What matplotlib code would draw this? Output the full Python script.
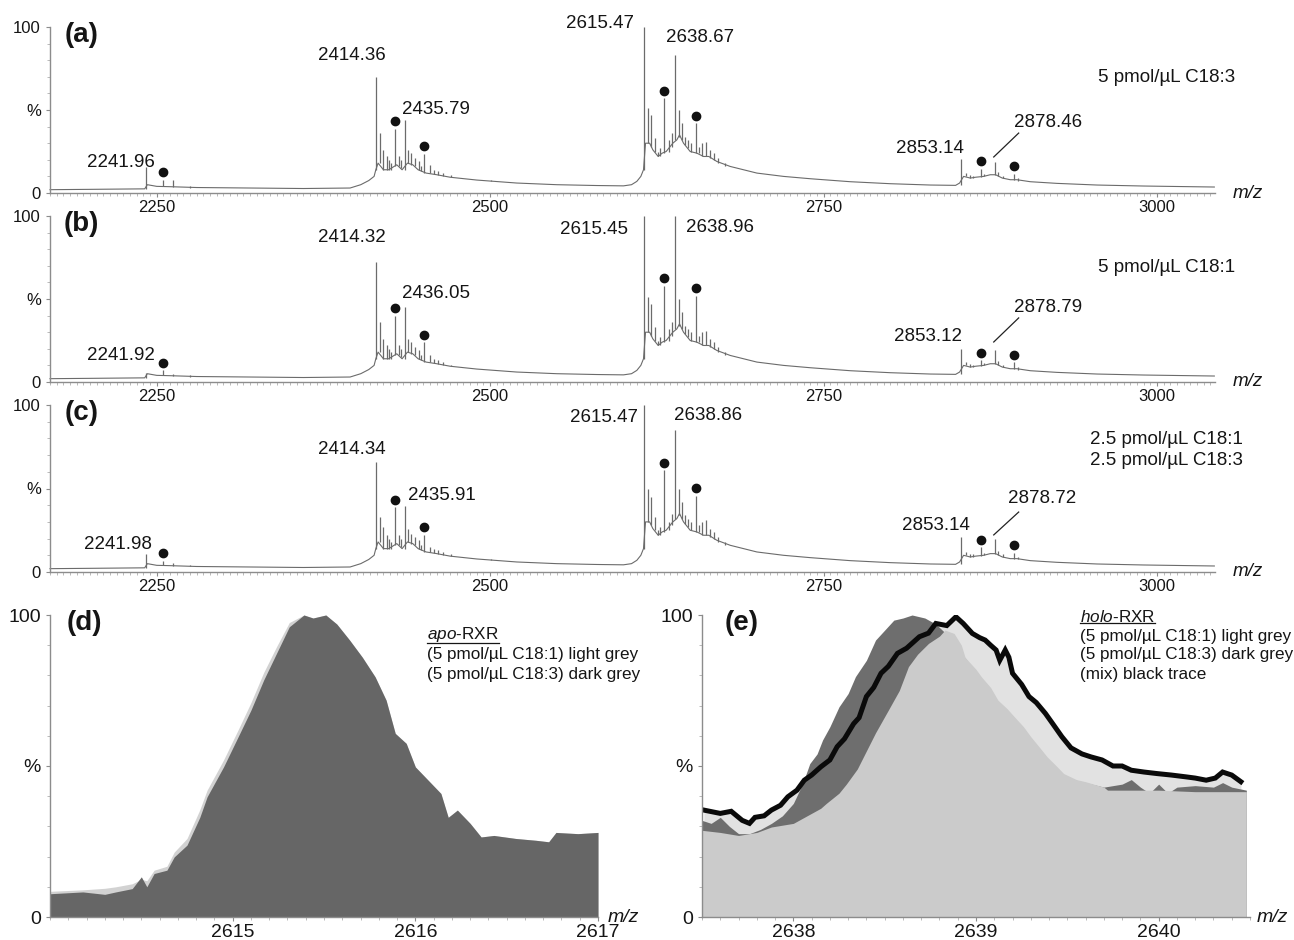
import numpy as np
import matplotlib
matplotlib.use("Agg")
import matplotlib.pyplot as plt
from matplotlib.ticker import FixedLocator, MultipleLocator
from matplotlib.lines import Line2D

plt.rcParams['font.family'] = ['Liberation Sans', 'DejaVu Sans']
plt.rcParams['mathtext.fontset'] = 'custom'
plt.rcParams['mathtext.rm'] = 'Liberation Sans'
plt.rcParams['mathtext.it'] = 'Liberation Sans:italic'

# ---------------- data: panels (a)-(c) ----------------
env_mz = [2170, 2200, 2241, 2243, 2250, 2260, 2280, 2320, 2360, 2395, 2403, 2409, 2413,
          2414.3, 2416, 2418, 2420, 2424, 2430, 2434, 2438, 2442, 2446, 2452, 2460, 2470,
          2490, 2520, 2550, 2580, 2600, 2606, 2610, 2613, 2615, 2616.5, 2619.6, 2622, 2626,
          2629, 2632, 2637, 2640, 2642, 2645, 2650, 2655, 2660, 2664, 2670, 2680, 2690, 2700,
          2720, 2740, 2770, 2800, 2830, 2849, 2852, 2855, 2860, 2864, 2870, 2875, 2879, 2884,
          2890, 2895, 2905, 2925, 2955, 2990, 3043]
env_int = [2.0, 2.2, 2.5, 5.0, 4.0, 3.8, 3.3, 3.0, 2.7, 3.0, 5.0, 7.5, 10.0,
           14, 18, 16, 14, 14, 17, 14, 18, 17, 14, 12, 11, 9.5,
           7.8, 6.0, 5.0, 4.5, 4.3, 5.0, 7.0, 10, 14, 30, 30, 26, 22,
           24, 25, 30, 32, 35, 30, 25, 24, 22, 22, 19, 16, 14, 12,
           10, 8.6, 6.8, 5.6, 4.8, 4.6, 6, 10, 9, 9.5, 10, 11, 11, 9,
           8, 8, 6.8, 5.8, 4.8, 4.2, 3.6]

peak_mz = [2241.96, 2255.0, 2262.5, 2275.0, 2414.36, 2417.2, 2419.8, 2422.5, 2428.5, 2435.8,
           2438.5, 2441.0, 2450.5, 2455.0, 2471.0, 2501.0, 2615.47, 2618.5, 2620.8, 2625.5,
           2630.5, 2634.0, 2636.5, 2638.7, 2641.5, 2643.5, 2646.0, 2654.0, 2656.5, 2659.0,
           2662.0, 2676.0, 2853.14, 2856.5, 2859.5, 2867.8, 2878.5, 2881.0, 2892.5,
           2424.5, 2426.0, 2431.5, 2433.0, 2444.0, 2446.5, 2448.0, 2458.0, 2461.0, 2464.5,
           2623.5, 2627.5, 2648.5, 2650.5, 2665.0, 2668.0, 2671.0, 2862.0, 2870.5, 2884.5,
           2896.0]
peak_base = [2.5, 4.0, 3.8, 3.3, 14, 18, 14, 14, 16, 14,
             18, 17, 12, 12, 9.5, 7.0, 14, 30, 28, 22,
             24, 25, 28, 32, 34, 32, 29, 24, 24, 22,
             22, 16, 4.6, 10, 9, 9.5, 11, 10, 8,
             14, 14, 16, 15, 16, 14, 13, 11.5, 11, 10,
             25, 22, 27, 25, 21, 20, 18, 9, 10, 9,
             7.5]
peak_dotted = [0, 1, 0, 0, 0, 0, 0, 0, 1, 0,
               0, 0, 1, 0, 0, 0, 0, 0, 0, 0,
               1, 0, 0, 0, 0, 0, 0, 1, 0, 0,
               0, 0, 0, 0, 0, 1, 0, 0, 1,
               0, 0, 0, 0, 0, 0, 0, 0, 0, 0,
               0, 0, 0, 0, 0, 0, 0, 0, 0, 0,
               0]
height_a = [15.7, 8.0, 7.6, 4.5, 70, 36, 26, 22, 38.8, 44,
            26, 24, 23.7, 16.7, 10.6, 7.6, 100, 51, 47, 25,
            57, 32, 36, 83, 50, 42, 34, 42, 28, 30,
            31, 18, 20.7, 12, 11, 14.7, 18.7, 12.6, 11.6,
            20, 18, 22, 20, 21, 19, 16, 14, 13, 12,
            33, 27, 32, 30, 26, 24, 21, 10.5, 11.5, 10.5,
            9]
height_b = [5.5, 7.0, 5.0, 4.0, 72, 36, 26, 22, 40, 45,
            26, 24, 24, 16, 10.5, 7.5, 100, 51, 47, 25,
            58, 32, 36, 100, 50, 42, 34, 52, 28, 30,
            31, 18, 20, 12, 11, 13, 19, 12.6, 12,
            20, 18, 22, 20, 21, 19, 16, 14, 13, 12,
            33, 27, 32, 30, 26, 24, 21, 10.5, 11.5, 10.5,
            9]
height_c = [10.6, 6.6, 5.5, 4.0, 66, 33, 27, 22, 38.8, 39.8,
            26, 23, 22.3, 15, 10.5, 7.5, 100, 50, 45, 25,
            61, 30, 35, 85, 50, 42, 34, 45.8, 28, 30,
            31, 18, 20.7, 12, 11, 14.7, 19.7, 12.6, 11.6,
            20, 18, 22, 20, 21, 19, 16, 14, 13, 12,
            33, 27, 32, 30, 26, 24, 21, 10.5, 11.5, 10.5,
            9]

labels_a = ["2241.96", "2414.36", "2435.79", "2615.47", "2638.67", "2853.14", "2878.46"]
labels_b = ["2241.92", "2414.32", "2436.05", "2615.45", "2638.96", "2853.12", "2878.79"]
labels_c = ["2241.98", "2414.34", "2435.91", "2615.47", "2638.86", "2853.14", "2878.72"]
notes_a = ["5 pmol/\u00b5L C18:3"]
notes_b = ["5 pmol/\u00b5L C18:1"]
notes_c = ["2.5 pmol/\u00b5L C18:1", "2.5 pmol/\u00b5L C18:3"]
ticks_top = [2250, 2500, 2750, 3000]

# ---------------- data: panel (d) ----------------
d_mz = [2614.0, 2614.18, 2614.3, 2614.36, 2614.45, 2614.5, 2614.53, 2614.57, 2614.64, 2614.68,
        2614.75, 2614.82, 2614.86, 2614.95, 2615.03, 2615.1, 2615.17, 2615.24, 2615.31, 2615.39,
        2615.44, 2615.51, 2615.57, 2615.64, 2615.71, 2615.78, 2615.84, 2615.89, 2615.95, 2616.0,
        2616.07, 2616.14, 2616.18, 2616.23, 2616.3, 2616.36, 2616.43, 2616.55, 2616.66, 2616.73,
        2616.77, 2616.89, 2617.0]
d_c183 = [7.7, 8.3, 7.5, 8.3, 9.4, 13.3, 10.0, 14.4, 15.5, 19.9,
          23.8, 33, 39.8, 49.7, 59.7, 68.5, 78.5, 87.3, 96.1, 100,
          99, 100, 97, 91.7, 86, 79.5, 71.8, 60.8, 57.5, 49.7,
          45.3, 40.9, 33, 35.4, 31, 26.5, 27, 26, 25.4, 24.9,
          28, 27.6, 28]
d_c181 = [8.5, 9.0, 9.5, 10.0, 11.0, 12.5, 12.0, 15.5, 16.8, 21.5,
          26, 35.5, 42, 52, 62, 71, 81, 89.5, 97.5, 100,
          99, 100, 97, 91.7, 86, 79.5, 71.8, 60.8, 57.5, 49.7,
          45.3, 40.9, 33, 35.4, 31, 26.5, 27, 26, 25.4, 24.9,
          28, 27.6, 28]
ticks_d = [2615, 2616, 2617]

# ---------------- data: panel (e) ----------------
e_mix_mz = [2637.51, 2637.6, 2637.66, 2637.72, 2637.76, 2637.79, 2637.84, 2637.88, 2637.93, 2637.97,
            2638.02, 2638.06, 2638.1, 2638.15, 2638.2, 2638.24, 2638.28, 2638.33, 2638.36, 2638.4,
            2638.44, 2638.48, 2638.52, 2638.57, 2638.62, 2638.69, 2638.74, 2638.78, 2638.84, 2638.89,
            2638.93, 2638.98, 2639.02, 2639.05, 2639.08, 2639.11, 2639.13, 2639.16, 2639.18, 2639.2,
            2639.25, 2639.29, 2639.33, 2639.38, 2639.42, 2639.47, 2639.52, 2639.58, 2639.63, 2639.69,
            2639.75, 2639.8, 2639.85, 2639.92, 2639.99, 2640.07, 2640.15, 2640.2, 2640.26, 2640.31,
            2640.35, 2640.4, 2640.45]
e_mix = [35.4, 34.3, 35, 32, 31, 33, 33.5, 35.4, 37, 39.8,
         42, 45.3, 47, 49.7, 52, 56.4, 59, 64, 66, 73,
         76, 80.7, 83, 87.3, 89, 92.8, 94, 97.2, 96.5, 99.4,
         97.2, 93.9, 92.5, 91.7, 90, 88.4, 85, 88.4, 86, 80.7,
         77, 73, 71, 67.4, 64, 59.7, 56, 54, 53, 52,
         50, 50, 48.6, 48, 47.5, 47, 46.4, 46, 45.3, 46,
         48, 47, 44.8]
e_c183_mz = [2637.5, 2637.55, 2637.6, 2637.65, 2637.7, 2637.76, 2637.82, 2637.88, 2637.94, 2638.0,
             2638.05, 2638.09, 2638.13, 2638.16, 2638.2, 2638.25, 2638.3, 2638.34, 2638.4, 2638.45,
             2638.5, 2638.55, 2638.6, 2638.65, 2638.72, 2638.78, 2638.85, 2638.95, 2639.05, 2639.15,
             2639.3, 2639.5, 2639.7, 2639.8, 2639.85, 2639.9, 2639.95, 2640.0, 2640.05, 2640.1,
             2640.2, 2640.3, 2640.35, 2640.4, 2640.48]
e_c183 = [32, 31, 33, 30, 27.6, 27.6, 29, 31, 33.5, 37.6,
          44, 50.8, 54, 58.6, 63, 69.6, 74, 79.6, 85, 91.7,
          95, 98.3, 99, 100, 99, 97, 93, 85, 75, 65,
          55, 46, 43, 44, 45.5, 43, 41, 44, 41, 43,
          43.5, 43, 44.5, 43, 42]
e_c181_mz = [2637.5, 2637.6, 2637.7, 2637.8, 2637.88, 2638.0, 2638.06, 2638.15, 2638.18, 2638.25,
             2638.29, 2638.35, 2638.4, 2638.45, 2638.52, 2638.58, 2638.63, 2638.68, 2638.74, 2638.8,
             2638.83, 2638.88, 2638.92, 2638.94, 2639.0, 2639.03, 2639.08, 2639.12, 2639.17, 2639.21,
             2639.26, 2639.3, 2639.35, 2639.39, 2639.44, 2639.48, 2639.55, 2639.6, 2639.7, 2639.72,
             2639.87, 2640.0, 2640.2, 2640.48]
e_c181 = [28.7, 28, 27, 28, 29.8, 31, 33, 36, 37.6, 41,
          44, 49, 55, 61, 68.5, 75, 82.9, 87, 90.6, 93,
          95, 93.9, 90, 86, 82, 79.5, 76, 71.8, 69, 66.3,
          63, 59.7, 56, 53, 50, 47.5, 45.5, 44.8, 43, 42,
          42, 42, 41.5, 41.5]
ticks_e = [2638, 2639, 2640]

# ---------------- styling / layout ----------------
W, H = 1294, 940
TRACE = '#6b6b6b'
SPINE = '#8c8c8c'
TXT = '#151515'


def px_axes(x0, x1, ytop, ybot):
    return [x0 / W, 1 - ybot / H, (x1 - x0) / W, (ybot - ytop) / H]


fig = plt.figure(figsize=(W / 100, H / 100), dpi=100)


def style_axes(ax, tick_fs):
    for s in ['top', 'right']:
        ax.spines[s].set_visible(False)
    for s in ['left', 'bottom']:
        ax.spines[s].set_color(SPINE)
        ax.spines[s].set_linewidth(1.0)
    ax.set_ylim(0, 100)
    ax.yaxis.set_major_locator(FixedLocator([0, 50, 100]))
    ax.set_yticklabels(['0', '%', '100'])
    ax.yaxis.set_minor_locator(MultipleLocator(10))
    ax.tick_params(axis='both', which='major', colors=SPINE, labelcolor=TXT,
                   labelsize=tick_fs, length=3, width=0.8)
    ax.tick_params(axis='y', which='minor', colors='#b0b0b0', length=2, width=0.6)
    ax.tick_params(axis='x', which='major', pad=2)
    ax.tick_params(axis='x', which='minor', colors='#b0b0b0', length=2, width=0.6)


def mz_label(ax, x, fs):
    ax.text(x, 0.0, 'm/z', transform=ax.transAxes, fontsize=fs, style='italic',
            color=TXT, ha='left', va='center')


# label anchor positions (layout) for each top panel, in data coords
lab_pos_a = [(2223, 18.1), (2396, 83.1), (2459.5, 50.6), (2582.5, 102.4),
             (2657.5, 93.4), (2830, 27.1), (2918, 42.2)]
lab_pos_b = [(2223, 15.7), (2396, 87.3), (2459.5, 53.6), (2578, 91.6),
             (2672.5, 92.8), (2828.5, 27.7), (2918, 44.6)]
lab_pos_c = [(2221, 16.2), (2396, 73.1), (2464, 46.1), (2585.5, 92.8),
             (2663.5, 94), (2834.5, 28.1), (2914, 44.3)]
lead_a = ((2877.6, 2896.3), (21.7, 36.1))
lead_b = ((2877.6, 2896.3), (24.1, 38.6))
lead_c = ((2877.6, 2896.3), (22.2, 35.9))

panels = [
    ('(a)', px_axes(50, 1215, 27, 193), height_a, labels_a, lab_pos_a, lead_a, notes_a, [0.693]),
    ('(b)', px_axes(50, 1215, 216, 382), height_b, labels_b, lab_pos_b, lead_b, notes_b, [0.687]),
    ('(c)', px_axes(50, 1215, 405, 572), height_c, labels_c, lab_pos_c, lead_c, notes_c, [0.796, 0.665]),
]

dotted = np.array(peak_dotted, dtype=bool)
pm = np.array(peak_mz)

for tag, rect, heights, labels, lpos, lead, notes, note_y in panels:
    ax = fig.add_axes(rect)
    ax.set_xlim(2170, 3043.5)
    ax.plot(env_mz, env_int, color=TRACE, lw=0.8, clip_on=False)
    ax.vlines(peak_mz, peak_base, heights, color=TRACE, lw=0.9, clip_on=False)
    hv = np.array(heights)
    ax.plot(pm[dotted], hv[dotted] + 4.5, 'o', color='#111111', ms=6, clip_on=False)
    style_axes(ax, 12)
    ax.xaxis.set_major_locator(FixedLocator(ticks_top))
    ax.xaxis.set_minor_locator(MultipleLocator(5))
    for txt, (x, y) in zip(labels, lpos):
        ax.text(x, y, txt, fontsize=13.5, color=TXT, ha='center', va='center')
    ax.plot(lead[0], lead[1], color='#222222', lw=0.9)
    for t, yy in zip(notes, note_y):
        ax.text(0.958, yy, t, transform=ax.transAxes, fontsize=13.5, color=TXT,
                ha='center', va='center')
    ax.text(0.027, 0.95, tag, transform=ax.transAxes, fontsize=20, fontweight='bold',
            color=TXT, ha='center', va='center')
    mz_label(ax, 1.015, 13.5)

LEG_FAM, LEG_FS = ['Liberation Sans', 'DejaVu Sans'], 12.3

# ---------------- panel (d) ----------------
axd = fig.add_axes(px_axes(50, 598, 615, 917))
axd.set_xlim(2614, 2617)
axd.fill_between(d_mz, d_c181, 0, color='#d2d2d2', lw=0)
axd.fill_between(d_mz, d_c183, 0, color='#666666', lw=0)
style_axes(axd, 14)
axd.xaxis.set_major_locator(FixedLocator(ticks_d))
axd.xaxis.set_minor_locator(MultipleLocator(0.1))
axd.text(0.062, 0.973, '(d)', transform=axd.transAxes, fontsize=20, fontweight='bold',
         color=TXT, ha='center', va='center')
mz_label(axd, 1.018, 14)

# ---------------- panel (e) ----------------
axe = fig.add_axes(px_axes(702, 1250, 615, 917))
axe.set_xlim(2637.5, 2640.5)
axe.fill_between(e_mix_mz, e_mix, 0, color='#e2e2e2', lw=0)
axe.fill_between(e_c183_mz, e_c183, 0, color='#6e6e6e', lw=0)
axe.fill_between(e_c181_mz, e_c181, 0, color='#cbcbcb', lw=0)
axe.plot(e_mix_mz, e_mix, color='#0a0a0a', lw=3.6, solid_joinstyle='miter')
style_axes(axe, 14)
axe.xaxis.set_major_locator(FixedLocator(ticks_e))
axe.xaxis.set_minor_locator(MultipleLocator(0.1))
axe.text(0.073, 0.975, '(e)', transform=axe.transAxes, fontsize=20, fontweight='bold',
         color=TXT, ha='center', va='center')
mz_label(axe, 1.012, 14)

# legends (figure pixel layout)
leg_d = [r'$\it{apo}$-RXR', '(5 pmol/\u00b5L C18:1) light grey', '(5 pmol/\u00b5L C18:3) dark grey']
leg_e = [r'$\it{holo}$-RXR', '(5 pmol/\u00b5L C18:1) light grey', '(5 pmol/\u00b5L C18:3) dark grey',
         '(mix) black trace']
heads = []
for x0, ys, lines in [(427, [635, 655, 675], leg_d), (1080, [617, 636, 655, 674], leg_e)]:
    for i, (y, t) in enumerate(zip(ys, lines)):
        tx = fig.text(x0 / W, 1 - y / H, t, fontsize=LEG_FS, family=LEG_FAM, color=TXT,
                      ha='left', va='center')
        if i == 0:
            heads.append(tx)

fig.canvas.draw()
r = fig.canvas.get_renderer()
for tx in heads:
    bb = tx.get_window_extent(r)
    yline = bb.y0 + 2
    fig.add_artist(Line2D([bb.x0 / W, bb.x1 / W], [yline / H, yline / H],
                          color=TXT, lw=0.9, transform=fig.transFigure))

fig.savefig('out.png', dpi=100)
